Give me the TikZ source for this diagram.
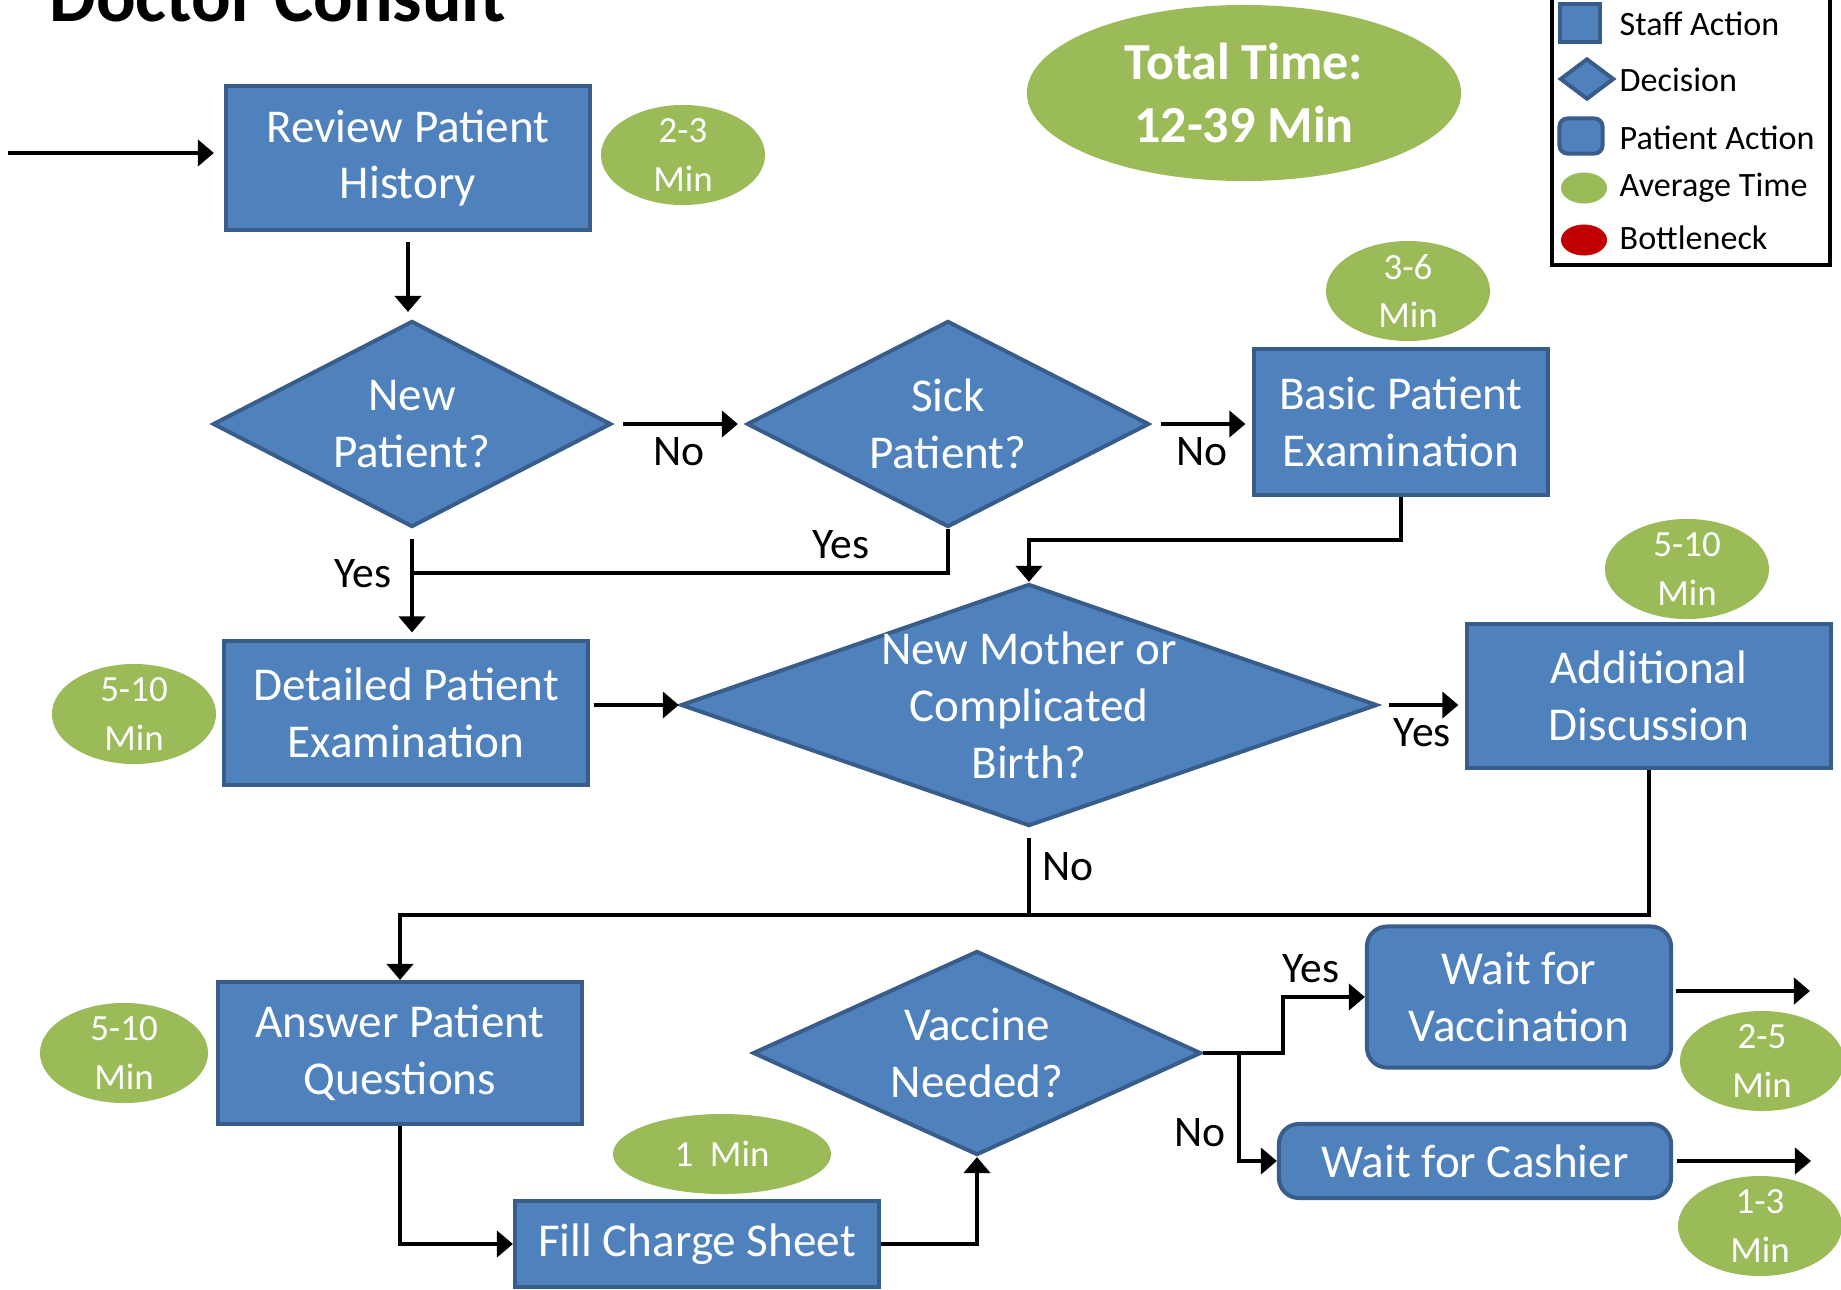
\documentclass[tikz,border=0pt]{standalone}
\usepackage{fontspec}
\setmainfont{Carlito}
\usetikzlibrary{shapes.geometric, arrows.meta}

\definecolor{stepfill}{HTML}{4F81BD}
\definecolor{stepedge}{HTML}{385D8A}
\definecolor{timegreen}{HTML}{9BBB59}
\definecolor{neckred}{HTML}{C00000}

\tikzset{
  staff/.style={draw=stepedge, fill=stepfill, line width=0.04cm, text=white,
    align=center, inner sep=0pt, font={\fontsize{13.4}{16.2}\selectfont}},
  patient/.style={staff, rounded corners=0.2cm},
  decision/.style={staff, diamond},
  avgtime/.style={ellipse, fill=timegreen, text=white, align=center,
    inner xsep=0pt, inner ysep=-0.06cm, minimum width=1.64cm, minimum height=1cm,
    font={\fontsize{10.5}{13.7}\selectfont}},
  wire/.style={line width=0.04cm},
  arr/.style={wire, -{Triangle[length=0.16cm,width=0.26cm]}},
  gapped/.style={shorten <=0.1cm, shorten >=0.07cm},
  lbl/.style={font={\fontsize{12.4}{15}\selectfont}},
  keytext/.style={anchor=west, inner sep=0pt, font={\fontsize{9.7}{12}\selectfont}}
}

\begin{document}
\begin{tikzpicture}[x=0.01cm, y=-0.01cm]
\useasboundingbox (0,0) rectangle (1841,1290);

\node[anchor=base west, inner sep=0pt, font={\fontsize{21}{25}\selectfont\bfseries}]
  (title) at (49,21) {Doctor Consult};

% steps
\node[staff, minimum width=3.64cm, minimum height=1.43cm] (review) at (408,158) {Review Patient\\History};
\node[decision, aspect=1.93, minimum width=3.98cm, minimum height=2.06cm] (newp) at (412,424) {New\\Patient?};
\node[decision, aspect=1.95, minimum width=4.02cm, minimum height=2.06cm] (sick) at (948,424) {Sick\\Patient?};
\node[staff, minimum width=2.93cm, minimum height=1.45cm] (basic) at (1401,422) {Basic Patient\\Examination};
\node[staff, minimum width=3.63cm, minimum height=1.43cm] (detail) at (406,713) {Detailed Patient\\Examination};
\node[decision, aspect=2.88, inner ysep=-0.15cm, minimum width=6.96cm, minimum height=2.42cm]
  (mother) at (1029,705) {New Mother or\\Complicated\\Birth?};
\node[staff, minimum width=3.63cm, minimum height=1.43cm] (addl) at (1649,696) {Additional\\Discussion};
\node[staff, minimum width=3.63cm, minimum height=1.42cm] (answer) at (400,1053) {Answer Patient\\Questions};
\node[staff, minimum width=3.64cm, minimum height=0.86cm] (fill) at (697,1244) {Fill Charge Sheet};
\node[decision, aspect=2.2, minimum width=4.48cm, minimum height=2.04cm] (vaccine) at (977,1053) {Vaccine\\Needed?};
\node[patient, minimum width=3.04cm, minimum height=1.41cm] (vacc) at (1519,997) {Wait for\\Vaccination};
\node[patient, minimum width=3.92cm, minimum height=0.74cm] (cash) at (1475,1161) {Wait for Cashier};

% times
\node[avgtime] (t23) at (683,155) {2-3\\Min};
\node[avgtime] (t36) at (1408,291) {3-6\\Min};
\node[avgtime] (t510a) at (134,714) {5-10\\Min};
\node[avgtime] (t510b) at (1687,569) {5-10\\Min};
\node[avgtime, minimum width=1.68cm] (t510c) at (124,1053) {5-10\\Min};
\node[avgtime, minimum width=2.18cm, minimum height=0.8cm] (t1) at (722,1154) {1\ \ Min};
\node[avgtime] (t25) at (1762,1061) {2-5\\Min};
\node[avgtime] (t13) at (1760,1226) {1-3\\Min};
\node[avgtime, minimum width=4.34cm, minimum height=1.76cm, font={\fontsize{14.8}{17.9}\selectfont\bfseries}]
  (total) at (1244,93) {Total Time:\\12-39 Min};

% legend
\node[draw, line width=0.04cm, inner sep=0pt, minimum width=2.77cm, minimum height=2.87cm] (legend) at (1691,121) {};
\node[staff, minimum width=0.4cm, minimum height=0.38cm] (keystaff) at (1580,23) {};
\node[decision, aspect=1.3, minimum width=0.54cm, minimum height=0.41cm] (keydec) at (1587,79) {};
\node[patient, rounded corners=0.08cm, minimum width=0.43cm, minimum height=0.35cm] (keypat) at (1581,136) {};
\node[ellipse, fill=timegreen, inner sep=0pt, minimum width=0.46cm, minimum height=0.31cm] (keyavg) at (1584,188) {};
\node[ellipse, fill=neckred, inner sep=0pt, minimum width=0.46cm, minimum height=0.31cm] (keyneck) at (1584,240) {};
\node[keytext] (lstaff) at (1619,24) {Staff Action};
\node[keytext] (ldec) at (1619,80) {Decision};
\node[keytext] (lpat) at (1619,138) {Patient Action};
\node[keytext] (lavg) at (1619,188) {Average Time};
\node[keytext] (lneck) at (1619,238) {Bottleneck};

% connectors
\coordinate (entry) at (8,153);
\coordinate (yesjoin) at (412,573);
\coordinate (outvacc) at (1810,991);
\coordinate (outcash) at (1811,1161);

\draw[arr, shorten >=0.1cm] (entry) -- (entry -| review.west);
\draw[arr, gapped] (review.south) -- (review.south |- newp.north);
\draw[arr, gapped] (newp.east) -- node[lbl, below] (no1) {No} (sick.west);
\draw[arr, gapped] (sick.east) -- node[lbl, below] (no2) {No} (sick.east -| basic.west);
\draw[arr, gapped] (newp.south) -- node[lbl, left=0.07cm, pos=0.4] (yes1) {Yes} (newp.south |- detail.north);
\draw[wire] (sick.south) |- node[lbl, above, pos=0.6] (yes2) {Yes} (yesjoin);
\draw[arr] (basic.south) -- ++(0,43) -| (mother.north);
\draw[arr, shorten <=0.04cm] (detail.east |- mother.west) -- (mother.west);
\draw[arr, gapped] (mother.east) -- node[lbl, below] (yes3) {Yes} (mother.east -| addl.west);
\draw[wire, shorten <=0.1cm] (mother.south) -- node[lbl, right, pos=0.45] (no3) {No} ++(0,85);
\draw[arr] (addl.south) -- ++(0,145) -| (answer.north);
\draw[arr] (answer.south) |- (fill.west);
\draw[arr] (fill.east) -| (vaccine.south);
\draw[arr] (vaccine.east) -- ++(80,0) |- node[lbl, above, pos=0.67] (yes4) {Yes} (vacc.west);
\draw[arr] (vaccine.east) -- ++(36,0) |- node[lbl, left, pos=0.37] (no4) {No} (cash.west);
\draw[arr, shorten <=0.03cm] (vacc.east |- outvacc) -- (outvacc);
\draw[arr, shorten <=0.04cm] (cash.east) -- (outcash);
\end{tikzpicture}
\end{document}
